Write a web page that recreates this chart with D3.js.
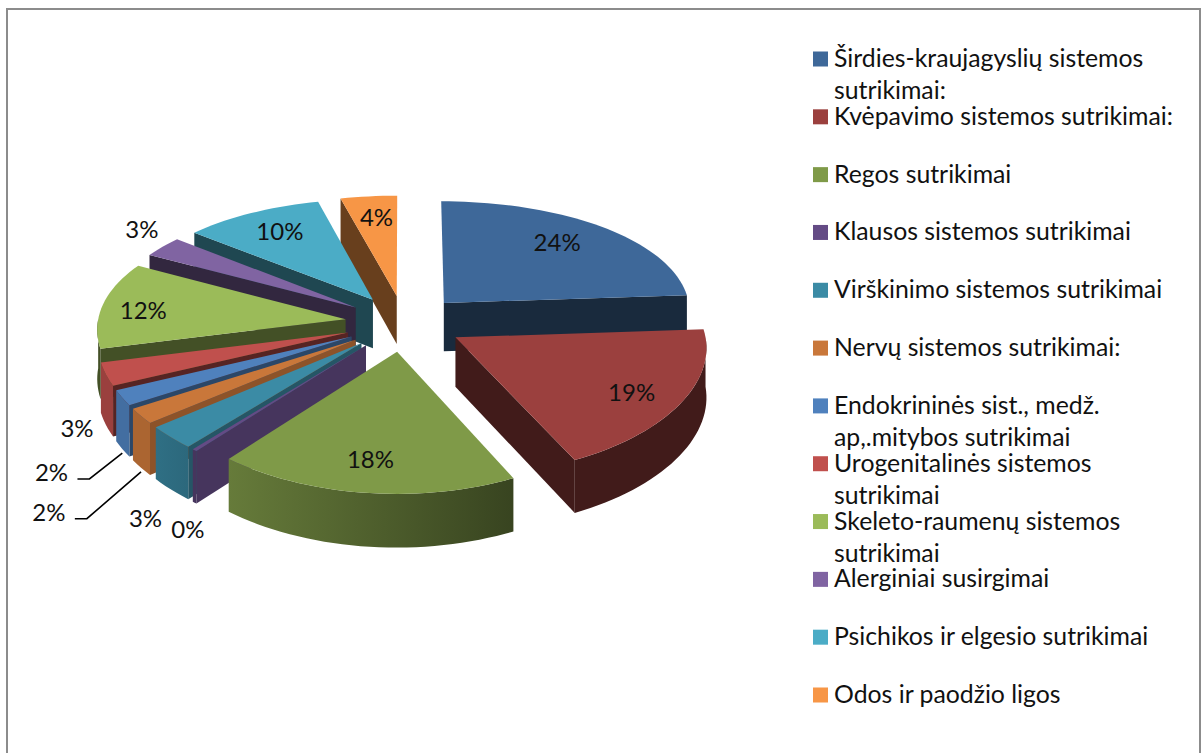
<!DOCTYPE html>
<html>
<head>
<meta charset="utf-8">
<script src="https://cdn.jsdelivr.net/npm/d3@7"></script>
<style>
  html, body { margin: 0; padding: 0; background: #fff; overflow: hidden; }
  text { font-family: Lato, "Open Sans", sans-serif; fill: #111; }
</style>
</head>
<body>
<div id="chart"></div>
<script>
// Categories and shares
const categories = [
    ["Širdies-kraujagyslių sistemos", "sutrikimai:"],
    ["Kvėpavimo sistemos sutrikimai:"],
    ["Regos sutrikimai"],
    ["Klausos sistemos sutrikimai"],
    ["Virškinimo sistemos sutrikimai"],
    ["Nervų sistemos sutrikimai:"],
    ["Endokrininės sist., medž.", "ap,.mitybos sutrikimai"],
    ["Urogenitalinės sistemos", "sutrikimai"],
    ["Skeleto-raumenų sistemos", "sutrikimai"],
    ["Alerginiai susirgimai"],
    ["Psichikos ir elgesio sutrikimai"],
    ["Odos ir paodžio ligos"]
];
const values = [24, 19, 18, 0.3, 3, 2, 2, 3, 12, 3, 10, 4];

const topColors = ["#3e6899", "#9b403e", "#7f9a48", "#644b85", "#3b8ba5", "#c9773a",
                   "#4f81bd", "#c0504d", "#9bbb59", "#8064a2", "#4bacc6", "#f79646"];
// how dark the cut faces and outer walls of each slice are
const cutShade = [0.4, 0.42, 0.44, 0.7, 0.62, 0.7, 0.55, 0.45, 0.43, 0.39, 0.41, 0.42];
const rimShade = [
    [0.4, 0.4], [0.42, 0.42], [0.8, 0.44], [0.7, 0.7], [0.8, 0.75], [0.85, 0.85],
    [0.85, 0.85], [0.8, 0.8], [0.43, 0.43], [0.4, 0.4], [0.4, 0.4], [0.4, 0.4]
];
// label placement: radius factor and pixel nudge
const labelRadius = [0.62, 0.62, 0.6, 1.2, 1.2, 1.2, 1.2, 1.2, 0.7, 1.15, 0.62, 0.6];
const labelNudge = [
    [14, -12], [38, 16], [-8, 28], [30, 56], [15, 60], [-47, 80],
    [-23, 62], [21, 46], [-32, 2], [7, -9], [-16, -13], [-3, -16]
];

const width = 1203, height = 753;
const cx = 404, cy = 323;
const R = 248, explode = 59, depth = 49;
const tilt = 0.476, yPersp = 2100, xPersp = 3500;

const svg = d3.select("#chart").append("svg")
    .attr("width", width)
    .attr("height", height);
const defs = svg.append("defs");

// Frame
svg.append("rect")
    .attr("x", 7).attr("y", 9)
    .attr("width", 1193).attr("height", 760)
    .attr("fill", "#fff")
    .attr("stroke", "#8c8c8c")
    .attr("stroke-width", 2);

// Pie angles, clockwise from the top
const toRad = Math.PI / 180;
const slices = d3.pie().sort(null).value(d => d)(values);

// Flat pie coordinates -> screen, with a little perspective
function project(u, v, z) {
    const s = 1 / (1 - v / xPersp);
    return [cx + u * s, cy + tilt * v / (1 - v / yPersp) + z * s];
}

function apexOf(d) {
    const mid = (d.startAngle + d.endAngle) / 2;
    return [explode * Math.sin(mid), -explode * Math.cos(mid)];
}

function rimPoint(d, a, z) {
    const [ox, oy] = apexOf(d);
    return project(ox + R * Math.sin(a), oy - R * Math.cos(a), z);
}

const line = d3.line();

function arcPoints(d, a0, a1, z) {
    const steps = Math.max(2, Math.ceil((a1 - a0) / (toRad * 2)));
    return d3.range(steps + 1).map(i => rimPoint(d, a0 + (a1 - a0) * i / steps, z));
}

function shade(color, f) {
    const c = d3.rgb(color);
    return d3.rgb(c.r * f, c.g * f, c.b * f).formatHex();
}

// Back slices first; painter's order goes by apex height
const order = d3.range(slices.length).sort((a, b) => apexOf(slices[a])[1] - apexOf(slices[b])[1]);

order.forEach(i => {
    const d = slices[i];
    const g = svg.append("g").attr("class", "slice");
    const [ox, oy] = apexOf(d);
    const cutColor = shade(topColors[i], cutShade[i]);

    // radial cut faces, only the ones turned to the viewer
    [[d.startAngle, d.startAngle - Math.PI / 2], [d.endAngle, d.endAngle + Math.PI / 2]].forEach(([a, normal]) => {
        if (-Math.cos(normal) <= 0) return;
        const pts = [project(ox, oy, 0), rimPoint(d, a, 0), rimPoint(d, a, depth), project(ox, oy, depth)];
        g.append("path")
            .attr("d", line(pts) + "Z")
            .attr("fill", cutColor);
    });

    // outer wall, front half of the circle only
    const a0 = Math.max(d.startAngle, Math.PI / 2);
    const a1 = Math.min(d.endAngle, Math.PI * 3 / 2);
    if (a1 > a0) {
        const gid = "rim" + i;
        const xa = rimPoint(d, a0, 0)[0], xb = rimPoint(d, a1, 0)[0];
        const grad = defs.append("linearGradient")
            .attr("id", gid)
            .attr("gradientUnits", "userSpaceOnUse")
            .attr("x1", xb).attr("x2", xa)
            .attr("y1", 0).attr("y2", 0);
        grad.append("stop").attr("offset", 0).attr("stop-color", shade(topColors[i], rimShade[i][0]));
        grad.append("stop").attr("offset", 1).attr("stop-color", shade(topColors[i], rimShade[i][1]));
        const pts = arcPoints(d, a0, a1, 0).concat(arcPoints(d, a0, a1, depth).reverse());
        g.append("path")
            .attr("d", line(pts) + "Z")
            .attr("fill", `url(#${gid})`);
    }

    // top face
    const topPts = [project(ox, oy, 0)].concat(arcPoints(d, d.startAngle, d.endAngle, 0));
    g.append("path")
        .attr("d", line(topPts) + "Z")
        .attr("fill", topColors[i]);
});

// Percent labels
const fmt = d3.format(".0f");
const labelPos = slices.map((d, i) => {
    const mid = (d.startAngle + d.endAngle) / 2;
    const [ox, oy] = apexOf(d);
    const r = R * labelRadius[i];
    const p = project(ox + r * Math.sin(mid), oy - r * Math.cos(mid), 0);
    return [p[0] + labelNudge[i][0], p[1] + labelNudge[i][1]];
});

svg.append("g").selectAll("text")
    .data(slices)
    .enter()
    .append("text")
    .attr("x", (d, i) => labelPos[i][0])
    .attr("y", (d, i) => labelPos[i][1])
    .attr("dy", "0.35em")
    .attr("text-anchor", "middle")
    .attr("font-size", 24)
    .text(d => fmt(d.value) + "%");

// Leader lines for the two 2% labels
[5, 6].forEach(i => {
    const d = slices[i];
    const mid = (d.startAngle + d.endAngle) / 2;
    const end = rimPoint(d, mid, depth + 4);
    const lab = labelPos[i];
    svg.append("path")
        .attr("d", d3.line()([[lab[0] + 26, lab[1] + 6], [lab[0] + 38, lab[1] + 6], end]))
        .attr("fill", "none")
        .attr("stroke", "#000")
        .attr("stroke-width", 1.6);
});

// Legend
const legendY = d3.scalePoint()
    .domain(d3.range(categories.length))
    .range([59, 695]);

const legend = svg.append("g").selectAll("g")
    .data(categories)
    .enter()
    .append("g")
    .attr("transform", (d, i) => `translate(813, ${legendY(i)})`);

legend.append("rect")
    .attr("x", 0).attr("y", -7.5)
    .attr("width", 15).attr("height", 15)
    .attr("fill", (d, i) => topColors[i]);

legend.each(function(lines) {
    d3.select(this).selectAll("text")
        .data(lines)
        .enter()
        .append("text")
        .attr("x", 21)
        .attr("y", (t, j) => 8 + j * 32)
        .attr("font-size", 24.8)
        .text(t => t);
});
</script>
</body>
</html>
